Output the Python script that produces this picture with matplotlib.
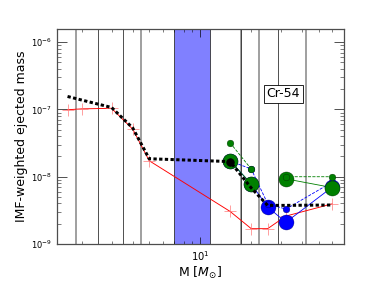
import numpy as np
import matplotlib
matplotlib.use("Agg")
import matplotlib.pyplot as plt
from matplotlib.ticker import NullFormatter

# ---- data ----
masses = [1.65, 2, 3, 4, 5, 15, 20, 25, 32, 60]
red_yield = [0.99e-7, 1.02e-7, 1.04e-7, 5.1e-8, 1.73e-8, 3.05e-9, 1.69e-9, 1.69e-9, 2.6e-9, 3.95e-9]
black_interp = [1.56e-7, 1.38e-7, 1.07e-7, 5.3e-8, 1.85e-8, 1.68e-8, 6.8e-9, 3.75e-9, 3.75e-9, 3.8e-9]

massive = [15, 20, 25, 32, 60]
blue_big = [1.72e-8, 7.8e-9, 3.55e-9, 2.1e-9, 7.0e-9]
blue_small = [1.72e-8, 1.3e-8, 3.97e-9, 3.3e-9, 8.3e-9]
green_big = [1.73e-8, 7.8e-9, np.nan, 9.3e-9, 6.9e-9]
green_small = [3.2e-8, 1.3e-8, np.nan, 1.0e-8, 1.0e-8]

gray_bounds = [1.85, 4.5, 17.4, 22.3, 42.0]
dark_bounds = [2.5, 3.5, 17.4, 28.6]
span_range = [7.0, 11.45]

label_text = "Cr-54"

fig = plt.figure(figsize=(382/60, 288/60), dpi=60)
ax = fig.add_axes([57/382, 1-244/288, 286.5/382, 215/288])
ax.set_xscale('log')
ax.set_yscale('log')

for b in gray_bounds:
    ax.axvline(b, color='0.6', lw=2.2, zorder=1)
for b in dark_bounds:
    ax.axvline(b, color='0.2', lw=1.0, zorder=1.1)
ax.axvspan(span_range[0], span_range[1], facecolor=(0.5, 0.5, 1.0), edgecolor='0.2', lw=1.0, zorder=1.2)

ax.plot(masses, red_yield, '-', color='red', lw=1.1, zorder=2)
ax.plot(masses, red_yield, '+', color=(1, 0.45, 0.45), ms=15, mew=1.0, alpha=0.8, zorder=2)

ax.plot(massive, blue_big, '-o', color='blue', lw=1.0, ms=18, mec='#000060', mew=0.4, zorder=3)
ax.plot(massive, blue_small, '--o', color='blue', lw=1.0, ms=8, mec='#000060', mew=0.5, zorder=3.1)
ax.plot(massive, green_big, '-o', color='green', lw=1.0, ms=18, mec='#003000', mew=0.5, zorder=3.2)
ax.plot(massive, green_small, '--o', color='green', lw=1.0, ms=8, mec='#003000', mew=0.5, zorder=3.3)

ax.plot(masses, black_interp, color='black', lw=3.6, linestyle=(0, (1.1, 0.8)), zorder=4)
ax.plot(masses[5], black_interp[5], 'o', color='black', ms=9, zorder=4.1)

ax.set_xlim(1.43, 70)
ax.set_ylim(1e-9, 1.57e-6)
ax.xaxis.set_minor_formatter(NullFormatter())
ax.yaxis.set_minor_formatter(NullFormatter())

ax.tick_params(which='both', direction='in', top=True, right=True)
ax.tick_params(axis='y', which='major', length=12, labelsize=10, pad=6)
ax.tick_params(axis='y', which='minor', length=5)
ax.tick_params(axis='x', which='major', length=9, labelsize=12, pad=6)
ax.tick_params(axis='x', which='minor', length=4)
for s in ax.spines.values():
    s.set_color('0.3')
    s.set_linewidth(1.5)

ax.set_xlabel(r'M [$M_{\odot}$]', fontsize=15, labelpad=2)
ax.set_ylabel('IMF-weighted ejected mass', fontsize=15)

ax.text(0.79, 0.70, label_text, transform=ax.transAxes, fontsize=15,
        ha='center', va='center', zorder=6,
        bbox=dict(facecolor='white', edgecolor='black', boxstyle='square,pad=0.2', lw=1))

fig.savefig('out.png', dpi=60)
